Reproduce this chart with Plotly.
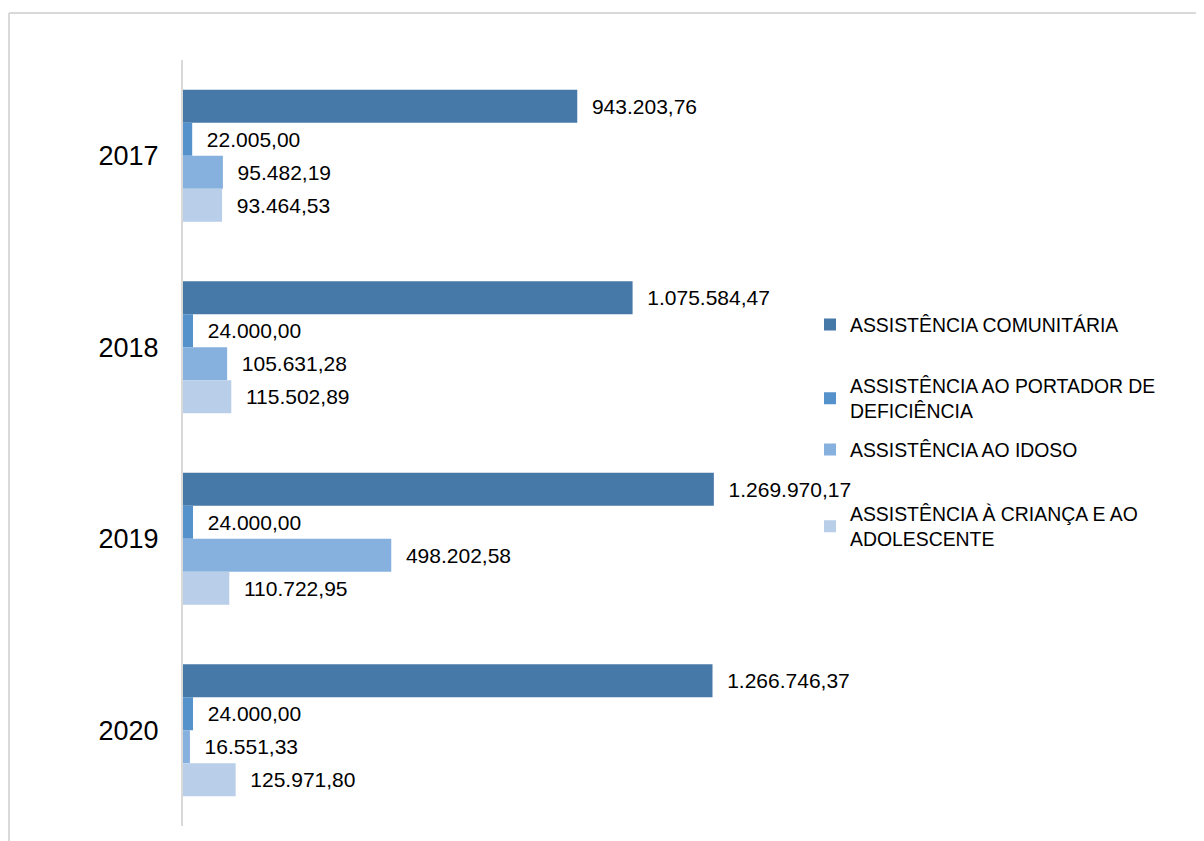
import plotly.graph_objects as go

years = ["2017", "2018", "2019", "2020"]
series_names = [
    "ASSISTÊNCIA COMUNITÁRIA",
    "ASSISTÊNCIA AO PORTADOR DE<br>DEFICIÊNCIA",
    "ASSISTÊNCIA AO IDOSO",
    "ASSISTÊNCIA À CRIANÇA E AO<br>ADOLESCENTE",
]
comunitaria = [943203.76, 1075584.47, 1269970.17, 1266746.37]
portador = [22005.00, 24000.00, 24000.00, 24000.00]
idoso = [95482.19, 105631.28, 498202.58, 16551.33]
crianca = [93464.53, 115502.89, 110722.95, 125971.80]
series_values = [comunitaria, portador, idoso, crianca]
colors = ["#4678A8", "#5592CB", "#86B0DD", "#B9CEE8"]


def br(v):
    s = f"{v:,.2f}"
    return s.replace(",", "X").replace(".", ",").replace("X", ".")


# page has an 8px body margin; work in figure coordinates
L, T, W, H = 175, 52, 627, 766
FIG_W, FIG_H = 1196, 833

legend_ids = ["legend", "legend2", "legend3", "legend4"]
legend_centers = [317, 390.5, 442, 518.5]

fig = go.Figure()
for i, (name, vals) in enumerate(zip(series_names, series_values)):
    fig.add_trace(go.Bar(
        y=years, x=vals, orientation="h", name=name,
        marker=dict(color=colors[i], line=dict(width=0)),
        text=["  " + br(v) for v in vals],
        textposition="outside", constraintext="none", cliponaxis=False,
        textfont=dict(family="Liberation Sans, Arial", size=21, color="#000000"),
        legend=legend_ids[i],
        hoverinfo="skip",
    ))

layout_legends = {}
for i, lid in enumerate(legend_ids):
    layout_legends[lid] = dict(
        x=(802 - L) / W, xanchor="left",
        y=(T + H - legend_centers[i]) / H, yanchor="middle",
        bgcolor="rgba(0,0,0,0)", borderwidth=0,
        font=dict(family="Liberation Sans, Arial", size=19.4, color="#000000"),
        itemclick=False, itemdoubleclick=False,
    )

fig.update_layout(
    width=FIG_W, height=FIG_H,
    margin=dict(l=L, r=FIG_W - L - W, t=T, b=FIG_H - T - H, autoexpand=False),
    paper_bgcolor="white", plot_bgcolor="white",
    barmode="group", bargap=0.31, bargroupgap=0,
    showlegend=True,
    xaxis=dict(range=[0, 1500000], visible=False, fixedrange=True),
    yaxis=dict(
        autorange="reversed", type="category",
        showline=True, linecolor="#D9D9D9", linewidth=2,
        showgrid=False, zeroline=False, ticks="",
        ticklabelstandoff=17,
        tickfont=dict(family="Liberation Sans, Arial", size=27, color="#000000"),
        fixedrange=True,
    ),
    **layout_legends,
)

# outer chart border (top and left edges visible)
bx0 = (1 - L) / W
by1 = (T + H - 5) / H
fig.add_shape(type="line", xref="paper", yref="paper",
              x0=bx0, x1=(FIG_W + 20 - L) / W, y0=by1, y1=by1,
              line=dict(color="#D9D9D9", width=2), layer="below")
fig.add_shape(type="line", xref="paper", yref="paper",
              x0=bx0, x1=bx0, y0=by1, y1=-0.1,
              line=dict(color="#D9D9D9", width=2), layer="below")

fig.write_html("out.html", config={"displayModeBar": False})
